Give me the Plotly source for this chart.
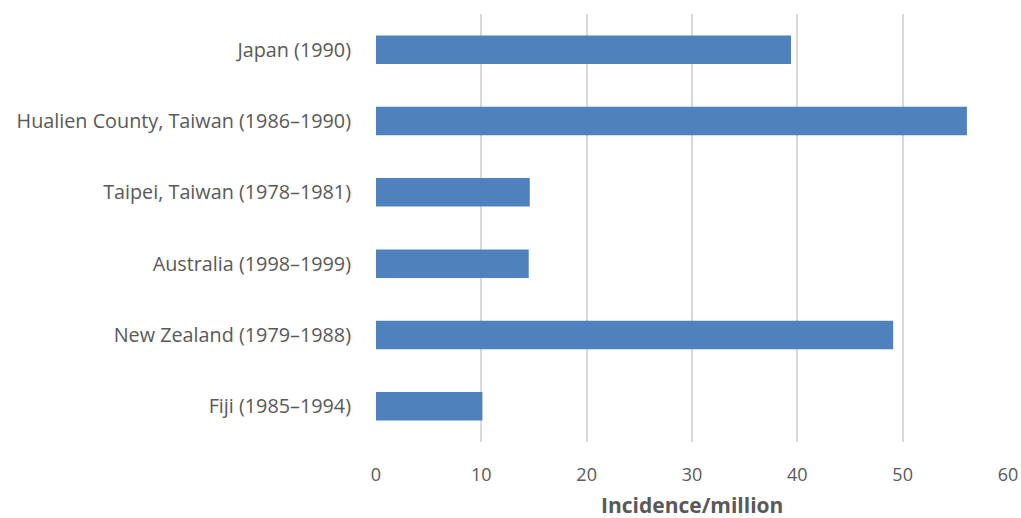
import plotly.graph_objects as go

categories = [
    "Japan (1990)",
    "Hualien County, Taiwan (1986–1990)",
    "Taipei, Taiwan (1978–1981)",
    "Australia (1998–1999)",
    "New Zealand (1979–1988)",
    "Fiji (1985–1994)",
]
values = [39.4, 56.1, 14.6, 14.5, 49.1, 10.1]
x_ticks = [0, 10, 20, 30, 40, 50, 60]
x_title = "Incidence/million"

fig = go.Figure(
    go.Bar(
        y=categories,
        x=values,
        orientation="h",
        marker=dict(color="#4F81BD", line=dict(width=0)),
    )
)

fig.update_layout(
    width=1021,
    height=518,
    margin=dict(l=376, r=13, t=14, b=76),
    plot_bgcolor="white",
    paper_bgcolor="white",
    bargap=0.6,
    showlegend=False,
    font=dict(family="Open Sans", color="#595959"),
    annotations=[
        dict(
            text="<b>" + x_title + "</b>",
            xref="paper",
            yref="paper",
            x=0.5,
            y=0,
            xanchor="center",
            yanchor="top",
            yshift=-48,
            borderpad=0,
            showarrow=False,
            font=dict(size=21, color="#595959"),
        )
    ],
)
fig.update_xaxes(
    range=[0, 60],
    tickvals=x_ticks,
    showgrid=True,
    gridcolor="#D9D9D9",
    gridwidth=1.5,
    zeroline=False,
    showline=False,
    automargin=False,
    tickfont=dict(size=18, color="#595959"),
    ticks="",
    ticklen=0,
    ticklabelstandoff=20,
)
fig.update_yaxes(
    autorange="reversed",
    showgrid=False,
    zeroline=False,
    showline=False,
    automargin=False,
    ticks="",
    ticklen=0,
    ticklabelstandoff=24,
    tickfont=dict(size=19.8, color="#595959"),
)

fig.write_html(
    "out.html",
    config={"displayModeBar": False},
    post_script="document.body.style.margin='0';document.body.style.overflow='hidden';",
)
